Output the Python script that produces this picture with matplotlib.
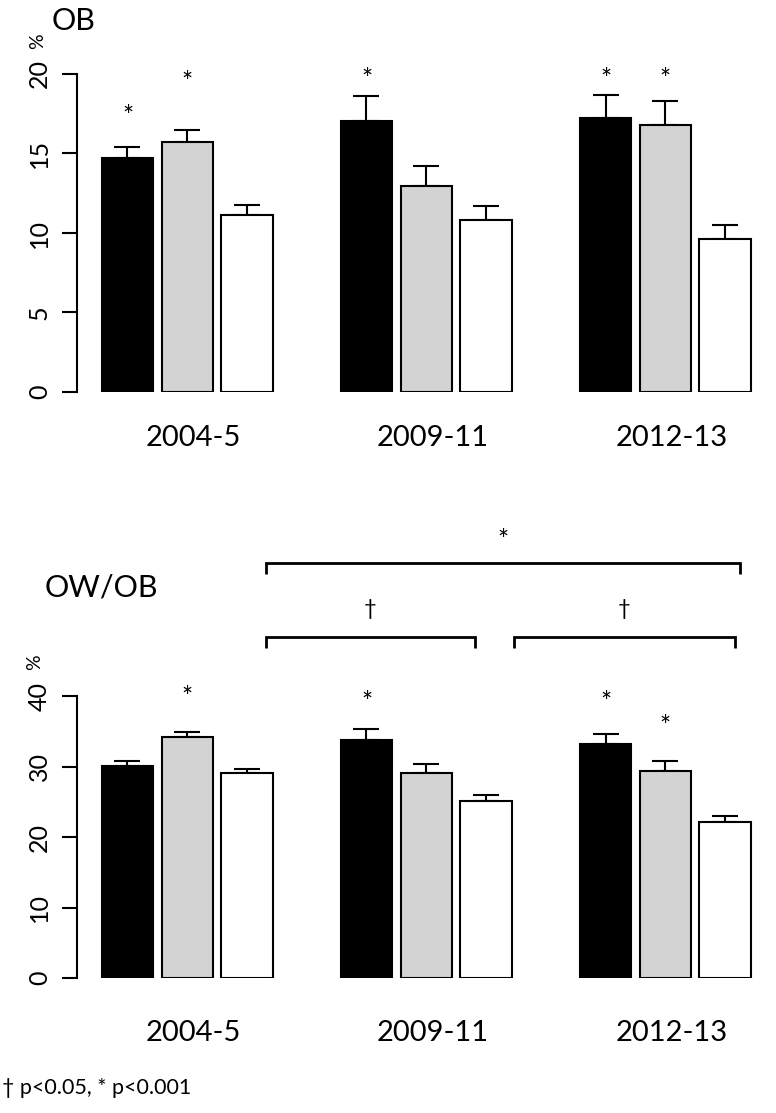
import matplotlib
matplotlib.use("Agg")
import matplotlib.pyplot as plt
import numpy as np

plt.rcParams['font.family'] = ['Lato', 'DejaVu Sans']

# ---------------- data ----------------
periods = ["2004-5", "2009-11", "2012-13"]
series_colors = ["#000000", "#d3d3d3", "#ffffff"]

ob_black = [14.73, 17.04, 17.25]
ob_gray = [15.70, 12.94, 16.81]
ob_white = [11.13, 10.82, 9.64]
ob_black_se = [0.67, 1.56, 1.43]
ob_gray_se = [0.75, 1.25, 1.51]
ob_white_se = [0.61, 0.88, 0.84]

ow_black = [30.1, 33.8, 33.2]
ow_gray = [34.2, 29.06, 29.44]
ow_white = [29.1, 25.18, 22.2]
ow_black_se = [0.7, 1.55, 1.45]
ow_gray_se = [0.7, 1.32, 1.42]
ow_white_se = [0.6, 0.85, 0.8]

# significance stars: (group, bar, height)
ob_stars = [(0, 0, 17.36), (0, 1, 19.5), (1, 0, 19.7), (2, 0, 19.7), (2, 1, 19.7)]
ow_stars = [(0, 1, 39.9), (1, 0, 39.2), (2, 0, 39.2), (2, 1, 35.8)]

# brackets between periods: (x_start, x_end, height, symbol)
brackets = [(2.31, 10.25, 58.97, "*"), (2.31, 5.82, 48.46, "\u2020"), (6.47, 10.17, 48.46, "\u2020")]

footnote = "\u2020 p<0.05, * p<0.001"

# ---------------- layout ----------------
W, H = 776, 1113
fig = plt.figure(figsize=(W / 100, H / 100), dpi=100)

def add_ax(left, right, top, bottom):
    return fig.add_axes([left / W, 1 - bottom / H, (right - left) / W, (bottom - top) / H])

bar_w = 0.854
lw = 1.5
xlim = (-0.845, 10.753)
star_size = 19

def draw_panel(ax, means, ses, stars, ymax, yticks, spine_top, star_offset):
    for i, (m, s, c) in enumerate(zip(means, ses, series_colors)):
        x = np.arange(len(periods)) * 4 + i
        ax.bar(x, m, width=bar_w, color=c, edgecolor="black", linewidth=lw, zorder=2)
        ax.errorbar(x, m, yerr=[np.zeros(len(s)), s], fmt="none", ecolor="black",
                    elinewidth=lw, capsize=9.4, capthick=lw, zorder=1)
    for g, b, y in stars:
        ax.text(4 * g + b, y - star_offset, "*", ha="center", va="center", fontsize=star_size)
    ax.set_xlim(*xlim)
    ax.set_ylim(0, ymax)
    for sp in ["top", "right", "bottom"]:
        ax.spines[sp].set_visible(False)
    ax.spines["left"].set_linewidth(lw)
    ax.spines["left"].set_bounds(0, spine_top)
    ax.set_yticks(yticks)
    ax.tick_params(axis="y", length=10.8, width=lw, labelsize=18, pad=8, labelrotation=90)
    for lab in ax.get_yticklabels():
        lab.set_va("center")
    ax.set_xticks(np.arange(len(periods)) * 4 + 1.1)
    ax.set_xticklabels(periods, fontsize=21)

ax1 = add_ax(77, 770, 74, 392)
draw_panel(ax1, [ob_black, ob_gray, ob_white], [ob_black_se, ob_gray_se, ob_white_se],
           ob_stars, 20, [0, 5, 10, 15, 20], 20, 0.1)
ax1.tick_params(axis="x", length=0, pad=24)

ax2 = add_ax(77, 770, 534.3, 978)
draw_panel(ax2, [ow_black, ow_gray, ow_white], [ow_black_se, ow_gray_se, ow_white_se],
           ow_stars, 63, [0, 10, 20, 30, 40], 40, 0.25)
ax2.tick_params(axis="x", length=0, pad=30)

for x0, x1, y, sym in brackets:
    ax2.plot([x0, x0, x1, x1], [y - 1.55, y, y, y - 1.55], color="black", lw=2.0,
             clip_on=False, solid_capstyle="butt", solid_joinstyle="miter")
    if sym == "*":
        ax2.text((x0 + x1) / 2, y + 3.0, sym, ha="center", va="center", fontsize=star_size)
    else:
        ax2.text((x0 + x1) / 2, y + 3.9, sym, ha="center", va="center", fontsize=16)

fig.text(52 / W, 1 - 30 / H, "OB", fontsize=22, ha="left", va="baseline")
fig.text(45 / W, 1 - 597 / H, "OW/OB", fontsize=22, ha="left", va="baseline")
fig.text(38 / W, 1 - 41.5 / H, "%", fontsize=14, rotation=90, ha="center", va="center")
fig.text(35 / W, 1 - 662 / H, "%", fontsize=14, rotation=90, ha="center", va="center")
fig.text(2 / W, 1 - 1094 / H, footnote, fontsize=15.5, ha="left", va="baseline")

fig.savefig("out.png", dpi=100)
